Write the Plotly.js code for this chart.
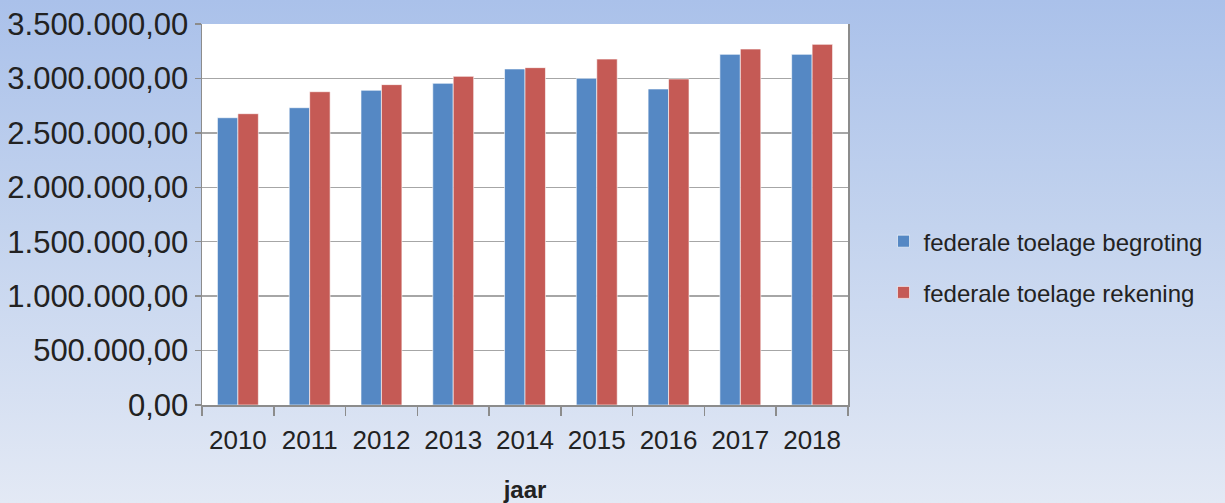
<!DOCTYPE html>
<html>
<head>
<meta charset="utf-8">
<script src="https://cdn.plot.ly/plotly-3.0.1.min.js"></script>
<style>
html,body{margin:0;padding:0;}
body{width:1225px;height:503px;background:linear-gradient(to bottom,#aac1ea 0%,#c3d3ee 45%,#e3e9f5 100%);}
#chart{width:1225px;height:503px;}
</style>
</head>
<body>
<div id="chart"></div>
<script>
var years = ['2010','2011','2012','2013','2014','2015','2016','2017','2018'];
var begroting = [2639000, 2731000, 2891000, 2955000, 3087000, 3001000, 2903000, 3221000, 3221000];
var rekening = [2676000, 2878000, 2943000, 3019000, 3099000, 3178000, 2995000, 3270000, 3313000];
var seriesNames = ['federale toelage begroting', 'federale toelage rekening'];

var fontFam = 'Liberation Sans, Arial, sans-serif';
var data = [
  {type:'bar', x:years, y:begroting, name:seriesNames[0], legendgroup:'a',
   marker:{color:'#5588c4', line:{color:'rgba(255,255,255,0.6)', width:1}}},
  {type:'bar', x:years, y:rekening, name:seriesNames[1], legendgroup:'b',
   marker:{color:'#c55a55', line:{color:'rgba(255,255,255,0.6)', width:1}}}
];
var layout = {
  width:1225, height:503,
  paper_bgcolor:'rgba(0,0,0,0)', plot_bgcolor:'#ffffff',
  margin:{l:202, r:377, t:24, b:98, autoexpand:false},
  separators:',.',
  font:{family:fontFam, color:'#222222'},
  barmode:'group', bargap:0.43, bargroupgap:0,
  xaxis:{
    type:'category', showgrid:false, showline:true, linecolor:'#8c8c8c', linewidth:1.5,
    ticks:'outside', ticklen:9, tickcolor:'#8c8c8c', tickwidth:1.5, tickson:'boundaries',
    tickangle:0, automargin:false,
    tickfont:{size:26, family:fontFam, color:'#222'}, ticklabelstandoff:11,
    title:{text:'<b>jaar</b>', font:{size:24, family:fontFam, color:'#222'}, standoff:30}
  },
  yaxis:{
    range:[0,3500000], dtick:500000, tick0:0, tickformat:',.2f', automargin:false,
    showgrid:true, gridcolor:'#a6a6a6', gridwidth:1.5,
    showline:true, linecolor:'#8c8c8c', linewidth:1.5, mirror:true,
    ticks:'outside', ticklen:6, tickcolor:'#8c8c8c', tickwidth:1.5,
    tickfont:{size:31, family:fontFam, color:'#222'}, zeroline:false
  },
  legend:{x:1.055, y:0.362, xanchor:'left', yanchor:'middle', bgcolor:'rgba(0,0,0,0)',
    font:{size:24, family:fontFam, color:'#222'}, tracegroupgap:17, traceorder:'grouped'},
  showlegend:true
};
Plotly.newPlot('chart', data, layout, {displayModeBar:false, staticPlot:true});
</script>
</body>
</html>
